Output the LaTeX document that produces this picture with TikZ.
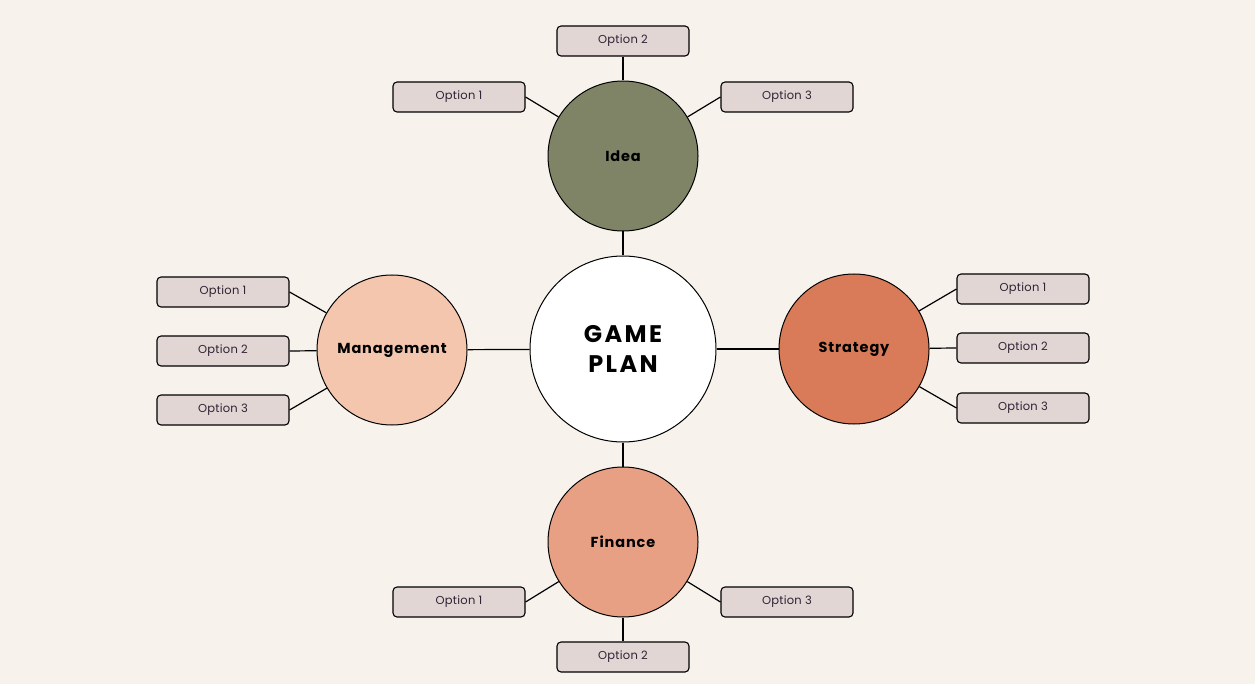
\documentclass[tikz,border=0pt]{standalone}
\usepackage{fontspec}
\setmainfont{Poppins}
\newfontfamily\titlefont[LetterSpace=10]{Poppins}
\newfontfamily\labfont[LetterSpace=6]{Poppins}
\newfontfamily\optfont[LetterSpace=2]{Poppins}
\definecolor{bg}{HTML}{F7F3EC}
\definecolor{ideac}{HTML}{7F8466}
\definecolor{mgmtc}{HTML}{F5C6AE}
\definecolor{stratc}{HTML}{D97B58}
\definecolor{finc}{HTML}{E8A084}
\definecolor{boxc}{HTML}{E2D6D5}
\definecolor{optt}{HTML}{2E2233}
\tikzset{
  hub/.style={circle, draw=black, line width=1pt, minimum size=150pt, inner sep=0pt, font=\labfont\bfseries\fontsize{14.5}{16}\selectfont},
  center/.style={circle, draw=black, line width=1pt, fill=white, minimum size=186pt, inner sep=0pt, align=center, font=\titlefont\bfseries\fontsize{24}{30}\selectfont},
  opt/.style={rectangle, rounded corners=4pt, draw=black, line width=1.1pt, fill=boxc, minimum width=132pt, minimum height=30pt, inner sep=0pt, text=optt, font=\optfont\fontsize{11.5}{13}\selectfont},
  link/.style={draw=black, line width=1.2pt}
}
\begin{document}
\begin{tikzpicture}[x=1pt,y=-1pt]
\fill[bg] (0,0) rectangle (1255,684);
\useasboundingbox (0,0) rectangle (1255,684);
\node[center] (gp) at (623,349) {GAME\\PLAN};
\node[hub, fill=ideac] (idea) at (623,156) {Idea};
\node[hub, fill=finc] (fin) at (623,542) {Finance};
\node[hub, fill=mgmtc] (mgmt) at (392,350) {Management};
\node[hub, fill=stratc] (strat) at (854,349) {Strategy};
% Idea options
\node[opt] (i1) at (459,97) {Option 1};
\node[opt] (i2) at (623,41) {Option 2};
\node[opt] (i3) at (787,97) {Option 3};
% Management options
\node[opt] (m1) at (223,292) {Option 1};
\node[opt] (m2) at (223,351) {Option 2};
\node[opt] (m3) at (223,410) {Option 3};
% Strategy options
\node[opt] (s1) at (1023,289) {Option 1};
\node[opt] (s2) at (1023,348) {Option 2};
\node[opt] (s3) at (1023,408) {Option 3};
% Finance options
\node[opt] (f1) at (459,602) {Option 1};
\node[opt] (f2) at (623,657) {Option 2};
\node[opt] (f3) at (787,602) {Option 3};
% links
\draw[link] (gp) -- (idea);
\draw[link] (gp) -- (fin);
\draw[link] (gp) -- (mgmt);
\draw[link] (gp) -- (strat);
\draw[link] (i1.east) -- (idea);
\draw[link] (i2) -- (idea);
\draw[link] (i3.west) -- (idea);
\draw[link] (m1.east) -- (mgmt);
\draw[link] (m2.east) -- (mgmt);
\draw[link] (m3.east) -- (mgmt);
\draw[link] (s1.west) -- (strat);
\draw[link] (s2.west) -- (strat);
\draw[link] (s3.west) -- (strat);
\draw[link] (f1.east) -- (fin);
\draw[link] (f2) -- (fin);
\draw[link] (f3.west) -- (fin);
\end{tikzpicture}
\end{document}
